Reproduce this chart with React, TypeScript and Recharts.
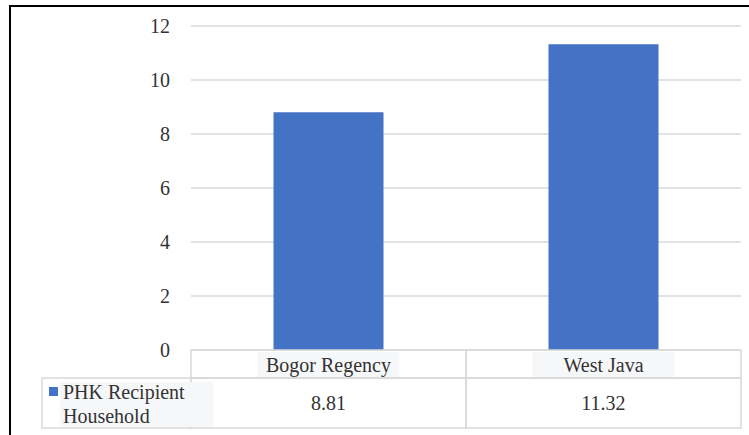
import { BarChart, Bar, XAxis, YAxis, CartesianGrid } from 'recharts'

// data
const categories = ['Bogor Regency', 'West Java']
const recipientShare = [8.81, 11.32]
const yTicks = [0, 2, 4, 6, 8, 10, 12]
const seriesName = ['PHK Recipient', 'Household']

const W = 749
const H = 435
const PLOT_LEFT = 191
const PLOT_RIGHT = 741
const TOP = 26
const TABLE_H = 85
const Y_AXIS_W = 60
const HEADER_ROW = 28
const VALUE_ROW = 50
const BAND = (PLOT_RIGHT - PLOT_LEFT) / categories.length

const BLUE = '#4472C4'
const LINE = '#d9d9d9'
const TEXT = '#333333'
const BOX = '#f6f7f9'
const FONT = 'Liberation Serif'

const data = categories.map((c, i) => ({ category: c, value: recipientShare[i] }))

function Label({ children, ...rest }: any) {
  return (
    <text fontFamily={FONT} fontSize={20} fill={TEXT} {...rest}>
      {children}
    </text>
  )
}

function YTick({ x, y, payload }: any) {
  return <Label x={x - 13} y={y} dy="0.35em" textAnchor="end">{String(payload.value)}</Label>
}

// x-axis tick drawn as one column of the data table under the plot
function TableTick({ x, index, payload, tableTop }: any) {
  const left = x - BAND / 2
  const rowTwo = tableTop + HEADER_ROW
  return (
    <g>
      <rect x={left} y={tableTop} width={BAND} height={HEADER_ROW} fill="none" stroke={LINE} strokeWidth={1.5} />
      <rect x={left} y={rowTwo} width={BAND} height={VALUE_ROW} fill="none" stroke={LINE} strokeWidth={1.5} />
      <rect x={x - 71} y={tableTop + 2} width={142} height={HEADER_ROW - 3} fill={BOX} />
      <Label x={x} y={tableTop + 15} dy="0.35em" textAnchor="middle">{payload.value}</Label>
      <Label x={x} y={rowTwo + 25} dy="0.35em" textAnchor="middle">{String(recipientShare[index])}</Label>
      {index === 0 && (
        <g>
          <rect x={42} y={rowTwo} width={left - 42} height={VALUE_ROW} fill="none" stroke={LINE} strokeWidth={1.5} />
          <rect x={60} y={rowTwo + 4} width={153} height={45} fill={BOX} />
          <rect x={49} y={rowTwo + 9} width={9} height={9} fill={BLUE} />
          <Label x={63} y={rowTwo + 21}>{seriesName[0]}</Label>
          <Label x={63} y={rowTwo + 45}>{seriesName[1]}</Label>
        </g>
      )}
    </g>
  )
}

export default function App() {
  const tableTop = H - TABLE_H
  return (
    <div style={{ position: 'absolute', left: 0, top: 0, width: W, height: H, background: '#fff', fontFamily: FONT }}>
      <BarChart
        width={W}
        height={H}
        data={data}
        margin={{ top: TOP, right: W - PLOT_RIGHT, bottom: 0, left: PLOT_LEFT - Y_AXIS_W }}
        barCategoryGap="30%"
      >
        <CartesianGrid horizontal vertical={false} stroke={LINE} strokeWidth={1.5} />
        <XAxis
          dataKey="category"
          height={TABLE_H}
          axisLine={false}
          tickLine={false}
          interval={0}
          tick={(p: any) => <TableTick {...p} tableTop={tableTop} />}
        />
        <YAxis
          width={Y_AXIS_W}
          domain={[0, 12]}
          ticks={yTicks}
          axisLine={false}
          tickLine={false}
          tick={(p: any) => <YTick {...p} />}
        />
        <Bar dataKey="value" fill={BLUE} isAnimationActive={false} />
      </BarChart>
      <div style={{
        position: 'absolute', left: 9, top: 5, width: W - 9, height: H - 5,
        borderTop: '2px solid #000', borderLeft: '2px solid #000', pointerEvents: 'none',
        boxSizing: 'border-box',
      }} />
    </div>
  )
}
